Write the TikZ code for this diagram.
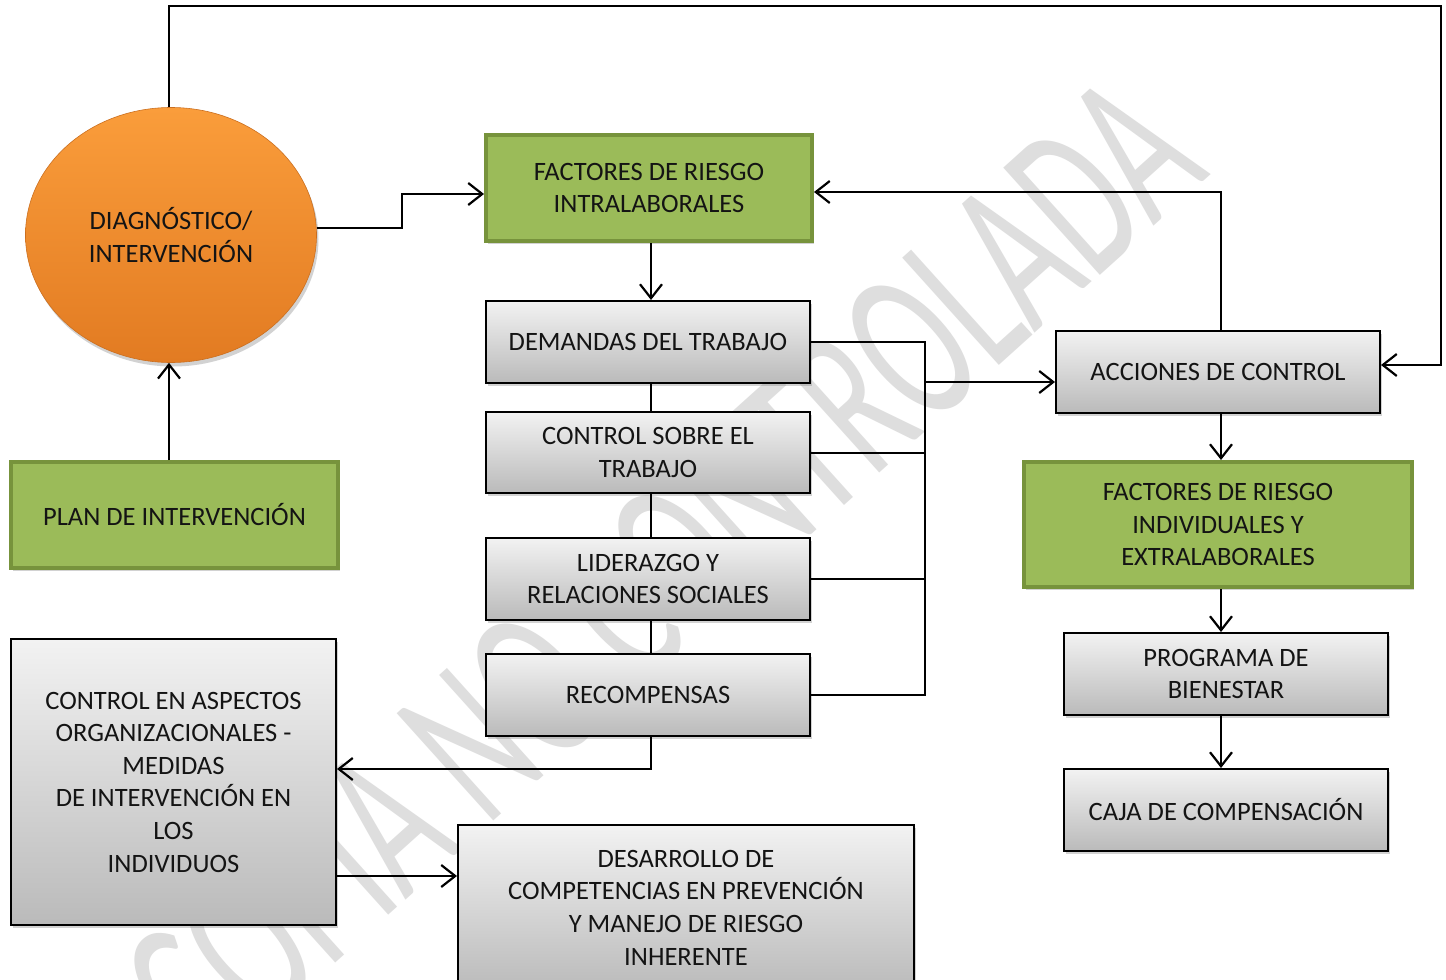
\documentclass[tikz,border=0pt]{standalone}
\usepackage{fontspec}
\setmainfont{Carlito}
\usetikzlibrary{arrows.meta,shapes.geometric,shadows,calc}
\definecolor{gfill}{HTML}{9BBB59}
\definecolor{gline}{HTML}{77933C}
\definecolor{otop}{HTML}{FA9D3B}
\definecolor{obot}{HTML}{E27B22}
\definecolor{wm}{HTML}{DEDEDE}
\definecolor{txt}{HTML}{141414}
\begin{document}
\begin{tikzpicture}[x=1pt,y=-1pt,
  font=\fontsize{26.5}{32.6}\selectfont,
  shd/.style={drop shadow={opacity=0.35,shadow xshift=2pt,shadow yshift=-3pt}},
  graybox/.style={draw=black,line width=2pt,top color=white!95!black,bottom color=black!27,
    shd,align=center,inner sep=0pt,anchor=north west,text=txt},
  greenbox/.style={draw=gline,line width=4pt,fill=gfill,align=center,inner sep=0pt,
    anchor=north west,text=txt,shd},
  arr/.style={line width=2.2pt,-{Straight Barb[length=14pt,width=22pt,line width=2.2pt]}},
  ln/.style={line width=2pt}]
\useasboundingbox (0,0) rectangle (1446,980);
\fill[white] (0,0) rectangle (1446,980);
% watermark
\node[rotate=42,text=wm,inner sep=0pt,font=\fontsize{225}{225}\selectfont] (wmk) at (662,572)
  {\scalebox{0.6}[1]{COPIA NO CONTROLADA}};
% nodes
\node[ellipse,inner sep=0pt,minimum width=291pt,minimum height=255pt,
  top color=otop,bottom color=obot,draw=obot!90!black,line width=0.6pt,
  drop shadow={opacity=0.35,shadow xshift=2pt,shadow yshift=-4pt},align=center,text=txt]
  (diag) at (171,235) {DIAGNÓSTICO/\\INTERVENCIÓN};
\node[greenbox,minimum width=326pt,minimum height=106pt] (fri) at (484,133)
  {FACTORES DE RIESGO\\INTRALABORALES};
\node[graybox,minimum width=324pt,minimum height=82pt] (dem) at (485,300) {DEMANDAS DEL TRABAJO};
\node[graybox,minimum width=324pt,minimum height=81pt] (ctl) at (485,411) {CONTROL SOBRE EL\\TRABAJO};
\node[graybox,minimum width=324pt,minimum height=82pt] (lid) at (485,537) {LIDERAZGO Y\\RELACIONES SOCIALES};
\node[graybox,minimum width=324pt,minimum height=82pt] (rec) at (485,653) {RECOMPENSAS};
\node[graybox,minimum width=324pt,minimum height=82pt] (acc) at (1055,330) {ACCIONES DE CONTROL};
\node[greenbox,minimum width=388pt,minimum height=125pt] (frie) at (1022,460)
  {FACTORES DE RIESGO\\INDIVIDUALES Y\\EXTRALABORALES};
\node[graybox,minimum width=324pt,minimum height=82pt] (prog) at (1063,632) {PROGRAMA DE\\BIENESTAR};
\node[graybox,minimum width=324pt,minimum height=82pt] (caja) at (1063,768) {CAJA DE COMPENSACIÓN};
\node[greenbox,minimum width=327pt,minimum height=106pt] (plan) at (9,460) {PLAN DE INTERVENCIÓN};
\node[graybox,minimum width=325pt,minimum height=286pt] (cea) at (10,638)
  {CONTROL EN ASPECTOS\\ORGANIZACIONALES -\\MEDIDAS\\DE INTERVENCIÓN EN\\LOS\\INDIVIDUOS};
\node[graybox,minimum width=456pt,minimum height=165pt] (des) at (457,824)
  {DESARROLLO DE\\COMPETENCIAS EN PREVENCIÓN\\Y MANEJO DE RIESGO\\INHERENTE};
% helper coordinates
\coordinate (tr) at (1441,6);
\coordinate (busx) at (925,0);
\coordinate (vx) at (1221,0);
\coordinate (cx) at (651,0);
\coordinate (lx) at (169,0);
% connectors
\draw[arr] (lx |- diag.north) |- (tr) |- ([yshift=7pt]acc.east);
\draw[arr] ([yshift=7pt]diag.east) -- ++(85,0) |- ([yshift=-6pt]fri.west);
\draw[arr] (cx |- fri.south) -- (cx |- dem.north);
\draw[ln] (cx |- dem.south) -- (cx |- ctl.north);
\draw[ln] (cx |- ctl.south) -- (cx |- lid.north);
\draw[ln] (cx |- lid.south) -- (cx |- rec.north);
\draw[ln] (dem.east) -- (dem.east -| busx) -- (rec.east -| busx) -- (rec.east);
\draw[ln] (ctl.east) -- (ctl.east -| busx);
\draw[ln] (lid.east) -- (lid.east -| busx);
\draw[arr] ([yshift=-10pt]acc.west -| busx) -- ([yshift=-10pt]acc.west);
\draw[arr] (vx |- acc.north) |- ([yshift=-4pt]fri.east);
\draw[arr] (vx |- acc.south) -- (vx |- frie.north);
\draw[arr] (vx |- frie.south) -- (vx |- prog.north);
\draw[arr] (vx |- prog.south) -- (vx |- caja.north);
\draw[arr] (lx |- plan.north) -- (lx |- diag.south);
\draw[arr] (cx |- rec.south) |- ([yshift=13pt]cea.east);
\draw[arr] ([yshift=-94pt]cea.east) -- ([yshift=-94pt]cea.east -| des.west);
\end{tikzpicture}
\end{document}
